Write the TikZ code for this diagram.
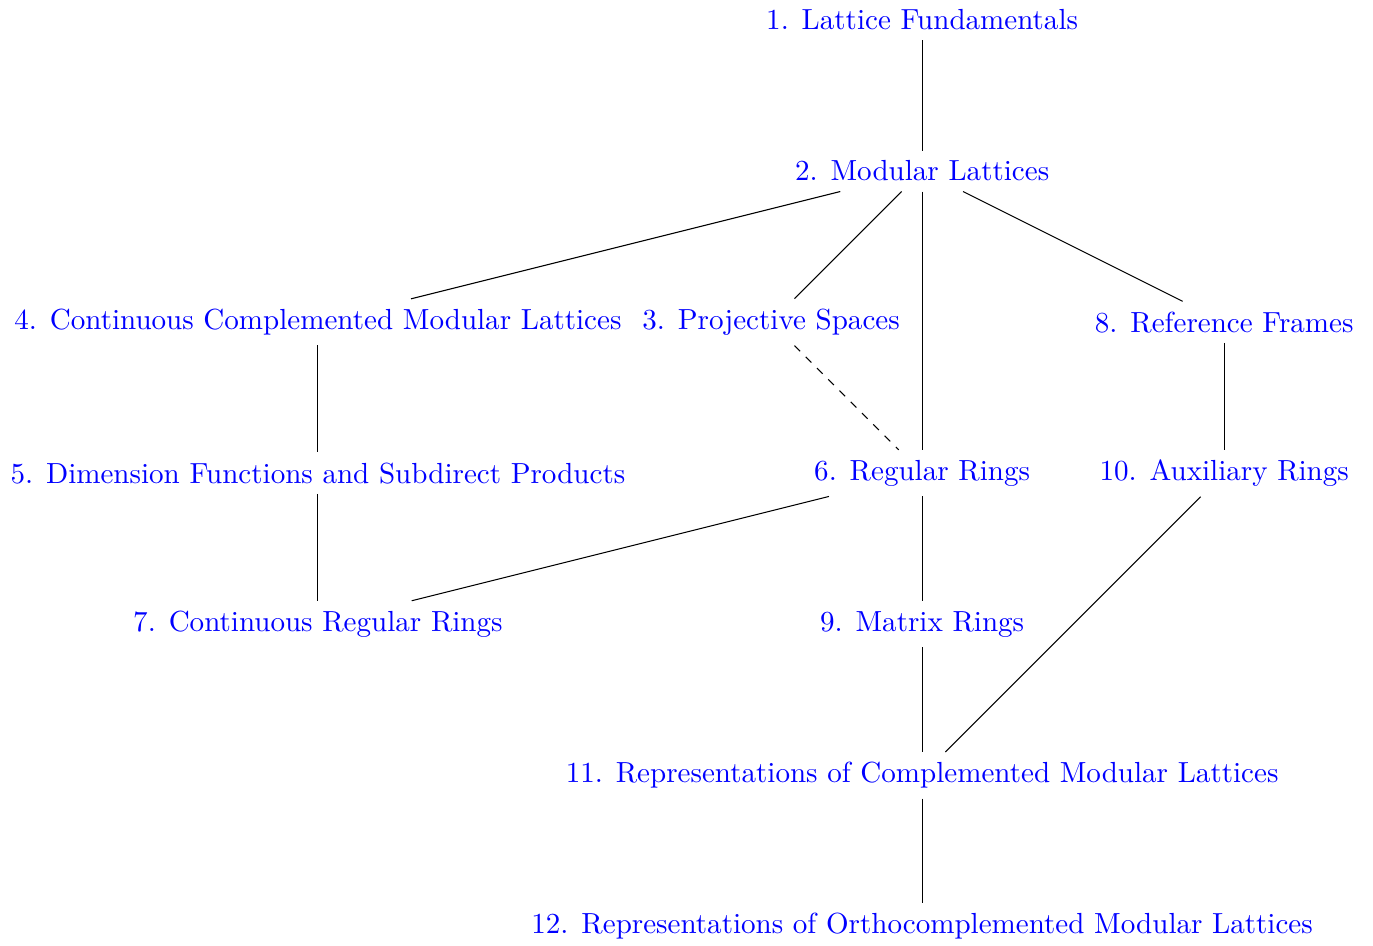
\documentclass[11pt,tikz,border=0pt]{standalone}
\usepackage{color}
\usepackage{tikz}
\usetikzlibrary{calc}

\begin{document}
\begin{tikzpicture}[chap/.style={text=blue}, dep/.style={draw=black}]
\useasboundingbox (-12.21,0.265) rectangle (5.97,-12.25);

%level 1
\node[chap] (c1) at (0,0) {1. Lattice Fundamentals};
%level 2
\node[chap] (c2) at (0,-2) {2. Modular Lattices};
%level 3
\node[chap] (c4) at (-8,-4) {4. Continuous Complemented Modular Lattices};
\node[chap] (c3) at (-2,-4) {3. Projective Spaces};
\node[chap] (c8) at (4,-4) {8. Reference Frames};
%level 4
\node[chap] (c5) at (-8,-6) {5. Dimension Functions and Subdirect Products};
\node[chap] (c6) at (0,-6) {6. Regular Rings};
\node[chap] (c10) at (4,-6) {10. Auxiliary Rings};
%level 5
\node[chap] (c7) at (-8,-8) {7. Continuous Regular Rings};
\node[chap] (c9) at (0,-8) {9. Matrix Rings};
%level 6
\node[chap] (c11) at (0,-10) {11. Representations of Complemented Modular Lattices};
%level 7
\node[chap] (c12) at (0,-12) {12. Representations of Orthocomplemented Modular Lattices};

%edges
\draw[dep] (c1) -- (c2);
\draw[dep] (c2) -- (c4);
\draw[dep] (c2) -- (c3);
\draw[dep] (c2) -- (c6);
\draw[dep] (c2) -- (c8);
\draw[dep] (c4) -- (c5);
\draw[dep] (c5) -- (c7);
\draw[dep, dashed] (c3) -- (c6);
\draw[dep] (c6) -- (c7);
\draw[dep] (c6) -- (c9);
\draw[dep] (c8) -- (c10);
\draw[dep] (c9) -- (c11);
\draw[dep] (c10) -- (c11);
\draw[dep] (c11) -- (c12);

\end{tikzpicture}
\end{document}
